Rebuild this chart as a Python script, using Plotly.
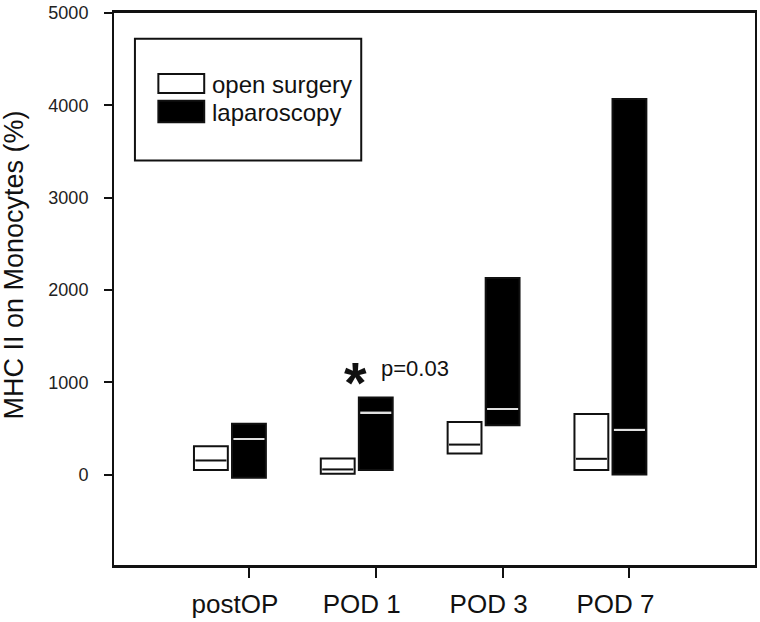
import plotly.graph_objects as go

# ---- data ----
categories = ["postOP", "POD 1", "POD 3", "POD 7"]
series_names = ["open surgery", "laparoscopy"]
open_min = [51, 11, 229, 51]
open_median = [154, 57, 326, 172]
open_max = [309, 176, 570, 657]
lap_min = [-32, 51, 535, 3]
lap_median = [388, 675, 714, 488]
lap_max = [552, 836, 2131, 4069]
y_ticks = [0, 1000, 2000, 3000, 4000, 5000]
p_label = "p=0.03"
y_title = "MHC II on Monocytes (%)"

# ---- layout constants ----
W, H = 760, 622
ML, MR, MT, MB = 114, 3, 12, 54
PW, PH = W - ML - MR, H - MT - MB
FONT = "Arial, Liberation Sans, sans-serif"
BAR_W = 0.267
MED_W = 0.245
OPEN_OFF = -0.30
MED_THICK_OPEN = 22   # line thickness expressed in y units (~2 px)
MED_THICK_LAP = 17


def px2paper_x(px):
    return (px - ML) / PW


def px2paper_y(py):
    return (H - MB - py) / PH


idx = list(range(len(categories)))
x_open = [i + OPEN_OFF for i in idx]
x_lap = idx

fig = go.Figure()
fig.add_trace(go.Bar(
    x=x_open, base=open_min,
    y=[hi - lo for hi, lo in zip(open_max, open_min)],
    width=BAR_W, name=series_names[0],
    marker=dict(color="white", line=dict(color="#111", width=2)),
    showlegend=False, hoverinfo="skip"))
fig.add_trace(go.Bar(
    x=x_lap, base=lap_min,
    y=[hi - lo for hi, lo in zip(lap_max, lap_min)],
    width=BAR_W, name=series_names[1],
    marker=dict(color="black", line=dict(color="#111", width=2)),
    showlegend=False, hoverinfo="skip"))
# median lines
fig.add_trace(go.Bar(
    x=x_open, base=[m - MED_THICK_OPEN / 2 for m in open_median],
    y=[MED_THICK_OPEN] * len(open_median), width=MED_W,
    marker=dict(color="#111", line=dict(width=0)),
    showlegend=False, hoverinfo="skip"))
fig.add_trace(go.Bar(
    x=x_lap, base=[m - MED_THICK_LAP / 2 for m in lap_median],
    y=[MED_THICK_LAP] * len(lap_median), width=MED_W,
    marker=dict(color="#e0e0e0", line=dict(width=0)),
    showlegend=False, hoverinfo="skip"))

shapes = [
    # legend box
    dict(type="rect", xref="paper", yref="paper",
         x0=px2paper_x(135), x1=px2paper_x(362),
         y0=px2paper_y(160.5), y1=px2paper_y(38),
         line=dict(color="#111", width=2), fillcolor="rgba(0,0,0,0)"),
    dict(type="rect", xref="paper", yref="paper",
         x0=px2paper_x(158.5), x1=px2paper_x(204.5),
         y0=px2paper_y(92.5), y1=px2paper_y(73.5),
         line=dict(color="#111", width=2), fillcolor="white"),
    dict(type="rect", xref="paper", yref="paper",
         x0=px2paper_x(158.5), x1=px2paper_x(204.5),
         y0=px2paper_y(122), y1=px2paper_y(100.5),
         line=dict(color="#111", width=2), fillcolor="black"),
]

annotations = [
    dict(text=series_names[0], xref="paper", yref="paper",
         x=px2paper_x(210), y=px2paper_y(84), xanchor="left", yanchor="middle",
         showarrow=False, font=dict(family=FONT, size=24, color="#111")),
    dict(text=series_names[1], xref="paper", yref="paper",
         x=px2paper_x(210), y=px2paper_y(112), xanchor="left", yanchor="middle",
         showarrow=False, font=dict(family=FONT, size=24, color="#111")),
    dict(text=y_title, xref="paper", yref="paper", textangle=-90,
         x=px2paper_x(14), y=px2paper_y(266), xanchor="center", yanchor="middle",
         showarrow=False, font=dict(family=FONT, size=27, color="#111")),
    dict(text=p_label, xref="paper", yref="paper",
         x=px2paper_x(380), y=px2paper_y(370), xanchor="left", yanchor="middle",
         showarrow=False, font=dict(family=FONT, size=22, color="#111")),
    dict(text="<b>*</b>", xref="paper", yref="paper",
         x=px2paper_x(356.5), y=px2paper_y(384), xanchor="center", yanchor="middle",
         showarrow=False, font=dict(family=FONT, size=58, color="#111")),
]

fig.update_layout(
    width=W, height=H,
    margin=dict(l=ML, r=MR, t=MT, b=MB, pad=0),
    plot_bgcolor="white", paper_bgcolor="white",
    barmode="overlay",
    shapes=shapes, annotations=annotations,
    xaxis=dict(
        range=[-1.064, 3.99], tickvals=idx, ticktext=categories,
        showgrid=False, zeroline=False,
        showline=True, linecolor="#111", linewidth=3, mirror=True,
        ticks="outside", ticklen=10, tickwidth=2, tickcolor="#111",
        ticklabelshift=-14, ticklabelstandoff=4,
        tickfont=dict(family=FONT, size=26, color="#111"),
    ),
    yaxis=dict(
        range=[-978, 5000], tickvals=y_ticks,
        showgrid=False, zeroline=False,
        showline=True, linecolor="#111", linewidth=2, mirror=True,
        ticks="outside", ticklen=8, tickwidth=2, tickcolor="#111",
        ticklabelstandoff=12,
        tickfont=dict(family=FONT, size=18, color="#222"),
    ),
)

fig.write_html(
    "out.html",
    config={"displayModeBar": False},
    post_script="document.body.style.margin='0';document.body.style.overflow='hidden';",
)
